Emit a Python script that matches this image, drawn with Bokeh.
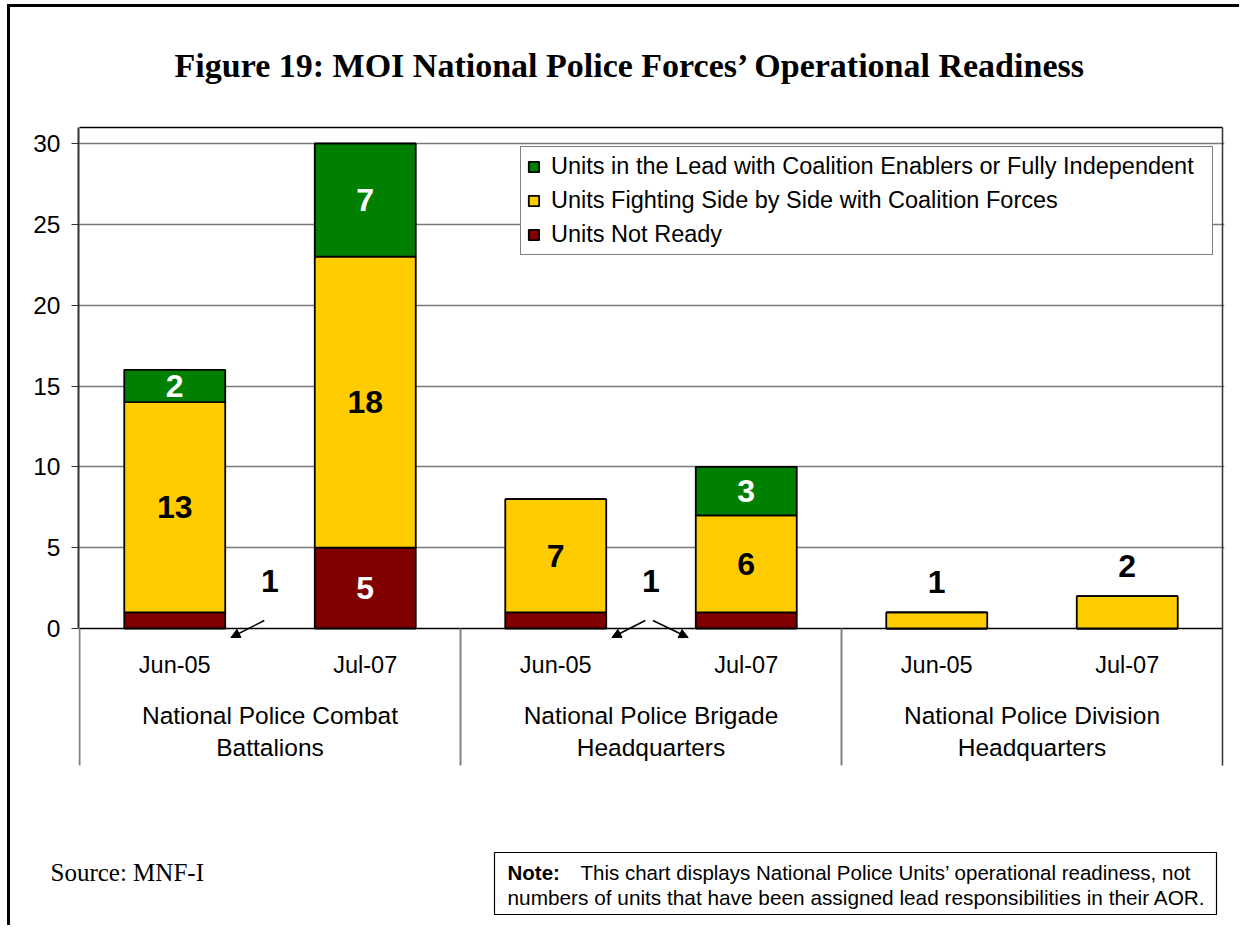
from bokeh.plotting import figure
from bokeh.models import (Range1d, FixedTicker, Label, Arrow, NormalHead,
                          BoxAnnotation, Legend, LegendItem, ColumnDataSource)
from bokeh.core.properties import value
from bokeh.embed import file_html
from bokeh.resources import INLINE

# ---------------- data ----------------
groups = ["National Police Combat Battalions",
          "National Police Brigade Headquarters",
          "National Police Division Headquarters"]
periods = ["Jun-05", "Jul-07"]
not_ready = [1, 5, 1, 1, 0, 0]
side_by_side = [13, 18, 7, 6, 1, 2]
in_lead = [2, 7, 0, 3, 0, 0]
series_names = ["Units Not Ready",
                "Units Fighting Side by Side with Coalition Forces",
                "Units in the Lead with Coalition Enablers or Fully Independent"]
series_colors = ["#800000", "#FFCC00", "#008000"]
label_colors = ["white", "black", "white"]
y_ticks = [0, 5, 10, 15, 20, 25, 30]
title_text = "Figure 19: MOI National Police Forces\u2019 Operational Readiness"
source_text = "Source: MNF-I"
note_bold = "Note:"
note_lines = ["This chart displays National Police Units\u2019 operational readiness, not",
              "numbers of units that have been assigned lead responsibilities in their AOR."]

# ---------------- layout (page pixels) ----------------
OX, OY = 10, 7            # canvas origin on the page (after margin + border)
W = 1232
MAIN_BOTTOM = 795         # page y where the footer starts
FOOT_H = 133
FOOT_SHIFT = 3            # measured offset of the footer root on the page
FR_L, FR_R, FR_T, FR_B = 78, 1224, 20, 767
X0_PX, SLOT_PX = 79, 190.5
ZERO_PX, UNIT_PX = 628, 485 / 30
TOP_LINE_PX, AXIS_BOTTOM_PX = 127, 765
BAR_W = 0.53
SANS = "Liberation Sans"
SERIF = "Liberation Serif"


def xv(px):
    return (px - X0_PX) / SLOT_PX


def yv(py):
    return (ZERO_PX - py) / UNIT_PX


def sx(px):
    return px - FR_L


def sy(py):
    return FR_B - py


n_bars = len(groups) * len(periods)
xs = [i + 0.5 for i in range(n_bars)]
cat_labels = [periods[i % len(periods)] for i in range(n_bars)]

p = figure(width=W, height=MAIN_BOTTOM - OY, title=None,
           x_range=Range1d(xv(FR_L), xv(FR_R)),
           y_range=Range1d(yv(FR_B), yv(FR_T)),
           output_backend="svg", toolbar_location=None,
           x_axis_location=None,
           min_border_left=FR_L - OX, min_border_right=OX + W - FR_R,
           min_border_top=FR_T - OY, min_border_bottom=MAIN_BOTTOM - FR_B)
p.styles = {"margin-left": "7px", "margin-top": "4px",
            "border-left": "3px solid black", "border-top": "3px solid black"}
p.outline_line_color = None
p.background_fill_color = "white"
p.border_fill_color = "white"
p.xgrid.visible = False
p.ygrid.ticker = FixedTicker(ticks=y_ticks[1:])
p.ygrid.grid_line_color = "#7a7a7a"
p.ygrid.grid_line_width = 1.5

ax = p.yaxis[0]
ax.ticker = FixedTicker(ticks=y_ticks)
ax.bounds = (0, yv(TOP_LINE_PX))
ax.axis_line_color = "#333333"
ax.axis_line_width = 2
ax.major_tick_out = 7
ax.major_tick_in = 0
ax.major_tick_line_color = "#333333"
ax.minor_tick_line_color = None
ax.major_label_text_font = SANS
ax.major_label_text_font_size = "24.5px"
ax.major_label_text_color = "black"
ax.major_label_standoff = 11

# ---------------- frame lines ----------------
n_groups = len(groups)
y_bottom = yv(AXIS_BOTTOM_PX)
y_top = yv(TOP_LINE_PX)
p.segment(x0=[0, 0], y0=[y_top, 0], x1=[n_bars, n_bars], y1=[y_top, 0],
          line_color="black", line_width=1.5)
sep_x = [g * len(periods) for g in range(n_groups)]
p.segment(x0=sep_x, y0=[y_bottom] * len(sep_x), x1=sep_x, y1=[0] * len(sep_x),
          line_color="#808080", line_width=2)
p.segment(x0=[n_bars], y0=[y_bottom], x1=[n_bars], y1=[y_top],
          line_color="#333333", line_width=1.5)

# ---------------- bars ----------------
src = ColumnDataSource(dict(x=xs, nr=not_ready, sbs=side_by_side, lead=in_lead))
renderers = p.vbar_stack(["nr", "sbs", "lead"], x="x", width=BAR_W, source=src,
                         fill_color=series_colors, line_color="black", line_width=1.8)

# ---------------- data labels ----------------
series = [not_ready, side_by_side, in_lead]
in_x, in_y, in_t, in_c = [], [], [], []
above_x, above_y, above_t = [], [], []
for i in range(n_bars):
    vals = [s[i] for s in series]
    nonzero = [v for v in vals if v > 0]
    if len(nonzero) == 1 and nonzero[0] < 3:
        above_x.append(xs[i])
        above_y.append(sum(vals) + 1.85)
        above_t.append(str(nonzero[0]))
        continue
    base = 0
    for k, v in enumerate(vals):
        if v >= 2:
            in_x.append(xs[i])
            in_y.append(base + v / 2)
            in_t.append(str(v))
            in_c.append(label_colors[k])
        base += v

LBL = dict(text_font=value(SANS), text_font_size="32px", text_font_style="bold",
           text_align="center", text_baseline="middle")
p.text(x=in_x, y=in_y, text=in_t, text_color=in_c, **LBL)
p.text(x=above_x, y=above_y, text=above_t, text_color="black", **LBL)

call_x, call_y, call_t = [], [], []
for g in range(n_groups):
    idx = [g * len(periods) + j for j in range(len(periods))]
    small = [i for i in idx if not_ready[i] == 1 and (side_by_side[i] + in_lead[i]) > 0]
    if not small:
        continue
    gc = g * len(periods) + len(periods) / 2
    call_x.append(gc)
    call_y.append(yv(580))
    call_t.append("1")
    for i in small:
        if xs[i] < gc:
            xa, xb = gc - 0.03, xs[i] + BAR_W / 2 + 0.03
        else:
            xa, xb = gc + 0.01, xs[i] - BAR_W / 2 - 0.04
        p.add_layout(Arrow(x_start=xa, y_start=yv(620), x_end=xb, y_end=yv(637),
                           line_color="black", line_width=1.5,
                           end=NormalHead(size=9, fill_color="black", line_color="black")))
p.text(x=call_x, y=call_y, text=call_t, text_color="black", **LBL)

# ---------------- category labels ----------------
p.text(x=xs, y=[yv(664)] * n_bars, text=cat_labels, text_font=value(SANS),
       text_font_size="23.5px", text_color="black", text_align="center",
       text_baseline="middle")
g_x = [g * len(periods) + len(periods) / 2 for g in range(n_groups)]
line1 = [name.rsplit(" ", 1)[0] for name in groups]
line2 = [name.rsplit(" ", 1)[1] for name in groups]
for txt, py in ((line1, 715), (line2, 747)):
    p.text(x=g_x, y=[yv(py)] * n_groups, text=txt, text_font=value(SANS),
           text_font_size="24.5px", text_color="black", text_align="center",
           text_baseline="middle")

# ---------------- legend ----------------
legend = Legend(items=[LegendItem(label=series_names[k], renderers=[renderers[k]])
                       for k in (2, 1, 0)],
                location=(sx(520), sy(255)), margin=0, padding=6, spacing=7,
                label_height=26, glyph_width=13, glyph_height=13, label_standoff=11,
                label_width=655,
                label_text_font=SANS, label_text_font_size="23.5px",
                label_text_color="black",
                border_line_color="black", border_line_width=1,
                background_fill_color="white", background_fill_alpha=1)
p.add_layout(legend)

# ---------------- title (inside the extended frame) ----------------
p.add_layout(Label(x=sx(630), y=sy(65), x_units="screen", y_units="screen",
                   text=title_text, text_font=SERIF, text_font_size="34px",
                   text_font_style="bold", text_align="center", text_baseline="middle",
                   text_color="black"))

# ---------------- footer: source and note ----------------
f = figure(width=W, height=FOOT_H, x_range=Range1d(0, W), y_range=Range1d(0, FOOT_H),
           output_backend="svg", toolbar_location=None, title=None,
           x_axis_location=None, y_axis_location=None, min_border=0)
f.styles = {"margin-left": "7px", "border-left": "3px solid black"}
f.outline_line_color = None
f.grid.visible = False

FOOT_BOTTOM = MAIN_BOTTOM - FOOT_SHIFT + FOOT_H


def fx(px):
    return px - OX


def fy(py):
    return FOOT_BOTTOM - py


f.add_layout(Label(x=fx(50), y=fy(872), x_units="screen", y_units="screen",
                   text=source_text, text_font=SERIF, text_font_size="25px",
                   text_align="left", text_baseline="middle", text_color="black"))
f.add_layout(BoxAnnotation(left=fx(494), right=fx(1216), top=fy(852), bottom=fy(914),
                           left_units="screen", right_units="screen",
                           top_units="screen", bottom_units="screen",
                           fill_color="white", fill_alpha=1,
                           line_color="black", line_width=1.2, line_alpha=1))
f.add_layout(Label(x=fx(507), y=fy(872), x_units="screen", y_units="screen",
                   text=note_bold, text_font=SANS, text_font_size="20.5px",
                   text_font_style="bold", text_align="left", text_baseline="middle",
                   text_color="black"))
f.add_layout(Label(x=fx(580), y=fy(872), x_units="screen", y_units="screen",
                   text=note_lines[0], text_font=SANS, text_font_size="20.5px",
                   text_align="left", text_baseline="middle", text_color="black"))
f.add_layout(Label(x=fx(507), y=fy(897), x_units="screen", y_units="screen",
                   text=note_lines[1], text_font=SANS, text_font_size="20.8px",
                   text_align="left", text_baseline="middle", text_color="black"))

open("out.html", "w").write(file_html([p, f], INLINE))
